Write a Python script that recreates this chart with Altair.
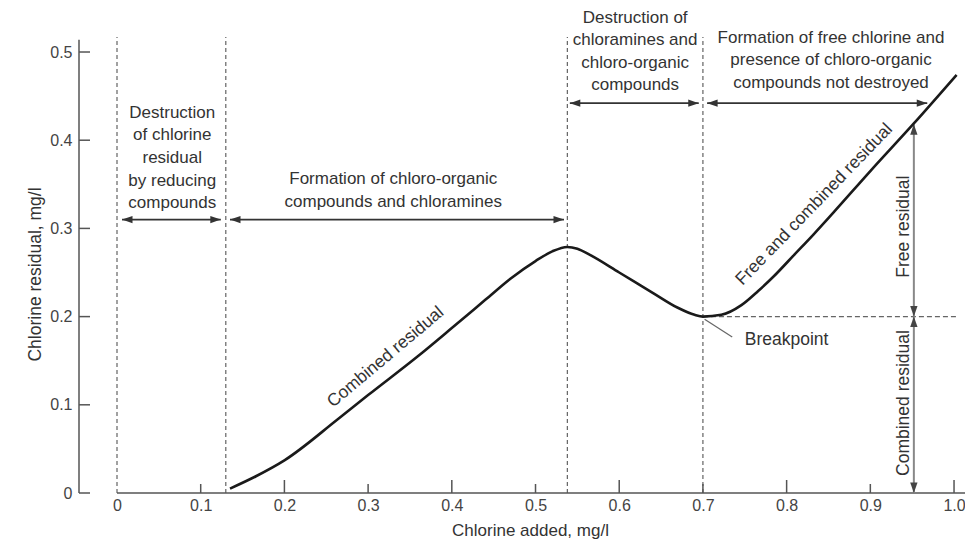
import altair as alt
import pandas as pd

# ---------------- data ----------------
curve_x = [0.135, 0.166, 0.2, 0.263, 0.3, 0.362, 0.4, 0.44, 0.47, 0.5, 0.52, 0.538,
           0.55, 0.565, 0.6, 0.64, 0.67, 0.69, 0.7, 0.722, 0.746, 0.766, 0.785, 0.809,
           0.832, 0.855, 0.9, 0.952, 1.003]
curve_y = [0.005, 0.019, 0.037, 0.083, 0.111, 0.157, 0.187, 0.219, 0.243, 0.263, 0.274, 0.279,
           0.277, 0.270, 0.250, 0.227, 0.210, 0.202, 0.2, 0.202, 0.213, 0.229, 0.246, 0.270,
           0.293, 0.317, 0.365, 0.419, 0.474]

x_ticks = [0, 0.1, 0.2, 0.3, 0.4, 0.5, 0.6, 0.7, 0.8, 0.9, 1.0]
x_tick_labels = ["0", "0.1", "0.2", "0.3", "0.4", "0.5", "0.6", "0.7", "0.8", "0.9", "1.0"]
y_ticks = [0, 0.1, 0.2, 0.3, 0.4, 0.5]
y_tick_labels = ["0", "0.1", "0.2", "0.3", "0.4", "0.5"]
x_major = [0.2, 0.4, 0.6, 0.8, 1.0]
x_minor = [0.1, 0.3, 0.5, 0.7, 0.9]

x_domain = [-0.0454, 1.0131]
y_domain = [0, 0.5499]
y_axis_top = 0.514

phase_x = [0, 0.13, 0.538, 0.7]
phase_top = 0.517

break_x, break_y = 0.7, 0.2
break_line_end = 1.003

harrow_x1 = [0.006, 0.135, 0.541, 0.705]
harrow_x2 = [0.124, 0.534, 0.695, 0.968]
harrow_y = [0.31, 0.31, 0.442, 0.442]

varrow_x = [0.952, 0.952]
varrow_y1 = [0.2, 0.0]
varrow_y2 = [0.418, 0.2]

leader_x = [0.702, 0.735]
leader_y = [0.197, 0.177]

block_texts = ["Destruction\nof chlorine\nresidual\nby reducing\ncompounds",
               "Formation of chloro-organic\ncompounds and chloramines",
               "Destruction of\nchloramines and\nchloro-organic\ncompounds",
               "Formation of free chlorine and\npresence of chloro-organic\ncompounds not destroyed"]
block_x = [0.066, 0.33, 0.619, 0.853]
block_y = [0.431, 0.356, 0.539, 0.516]   # position of the first line

curve_label_1 = ("Combined residual", 0.321, 0.154)
curve_label_2 = ("Free and combined residual", 0.833, 0.327)
vert_texts = ["Free residual", "Combined residual"]
vert_x = [0.94, 0.94]
vert_y = [0.302, 0.102]
break_label = ("Breakpoint", 0.75, 0.173)

# ---------------- styles ----------------
FONT = "Liberation Sans"
TXT = "#333333"
W, H = 886, 485

label_map = "{" + ",".join(f"'{v:.1f}':'{l}'" for v, l in zip(x_ticks, x_tick_labels)) + "}"
ylabel_map = "{" + ",".join(f"'{v:.1f}':'{l}'" for v, l in zip(y_ticks, y_tick_labels)) + "}"

xs = alt.Scale(domain=x_domain, nice=False, zero=False)
ys = alt.Scale(domain=y_domain, nice=False, zero=False)

curve_df = pd.DataFrame({"x": curve_x, "y": curve_y})

base_axes = alt.Chart(curve_df).mark_line(
    color="#1a1a1a", strokeWidth=2.6, interpolate="monotone"
).encode(
    x=alt.X("x:Q", scale=xs, axis=alt.Axis(
        values=x_ticks, labelExpr=f"{label_map}[format(datum.value, '.1f')]",
        domain=False, ticks=False, tickSize=0, grid=False, labelFlush=False,
        labelFontSize=16, labelFont=FONT, labelColor="#444444", labelPadding=4,
        title="Chlorine added, mg/l", titleFont=FONT, titleFontSize=17,
        titleFontWeight="normal", titleColor=TXT, titleX=451, titleY=37,
        titleBaseline="middle", titleAlign="center")),
    y=alt.Y("y:Q", scale=ys, axis=alt.Axis(
        values=y_ticks, labelExpr=f"{ylabel_map}[format(datum.value, '.1f')]",
        domain=False, ticks=False, tickSize=0, grid=False, labelFlush=False,
        labelFontSize=16, labelFont=FONT, labelColor="#444444", labelPadding=7,
        title="Chlorine residual, mg/l", titleFont=FONT, titleFontSize=17.5,
        titleFontWeight="normal", titleColor=TXT, titleX=-44, titleY=266,
        titleBaseline="middle", titleAlign="center", titleAngle=270)),
)

# axis lines
xaxis_line = alt.Chart(pd.DataFrame({"x": [0], "y": [0]})).mark_rule(
    color="#555555", strokeWidth=1.5
).encode(x=alt.X("x:Q", scale=xs), x2=alt.value(W), y=alt.Y("y:Q", scale=ys))

yaxis_line = alt.Chart(pd.DataFrame({"y": [0], "y2": [y_axis_top]})).mark_rule(
    color="#555555", strokeWidth=1.5
).encode(x=alt.value(0), y=alt.Y("y:Q", scale=ys), y2="y2:Q")

xmajor = alt.Chart(pd.DataFrame({"x": x_major})).mark_rule(color="#555555", strokeWidth=1.5).encode(
    x=alt.X("x:Q", scale=xs), y=alt.value(H), y2=alt.value(H - 13))
xminor = alt.Chart(pd.DataFrame({"x": x_minor})).mark_rule(color="#555555", strokeWidth=1.5).encode(
    x=alt.X("x:Q", scale=xs), y=alt.value(H), y2=alt.value(H - 9))
yticks = alt.Chart(pd.DataFrame({"y": y_ticks})).mark_rule(color="#555555", strokeWidth=1.5).encode(
    y=alt.Y("y:Q", scale=ys), x=alt.value(0), x2=alt.value(11))

# dashed phase lines
phase = alt.Chart(pd.DataFrame({"x": phase_x, "y": [0] * len(phase_x), "y2": [phase_top] * len(phase_x)})).mark_rule(
    color="#555555", strokeWidth=1.1, strokeDash=[4, 3]
).encode(x=alt.X("x:Q", scale=xs), y=alt.Y("y:Q", scale=ys), y2="y2:Q")

hdash = alt.Chart(pd.DataFrame({"x": [break_x], "x2": [break_line_end], "y": [break_y]})).mark_rule(
    color="#666666", strokeWidth=1.1, strokeDash=[5, 3]
).encode(x=alt.X("x:Q", scale=xs), x2="x2:Q", y=alt.Y("y:Q", scale=ys))

# horizontal arrows
hdf = pd.DataFrame({"x": harrow_x1, "x2": harrow_x2, "y": harrow_y})
harrows = alt.Chart(hdf).mark_rule(color="#333333", strokeWidth=1.6).encode(
    x=alt.X("x:Q", scale=xs), x2="x2:Q", y=alt.Y("y:Q", scale=ys))
head_left = alt.Chart(hdf).mark_point(shape="M0,0L2,-0.7L2,0.7Z", filled=True, size=110,
                                      color="#333333", opacity=1, strokeWidth=0).encode(
    x=alt.X("x:Q", scale=xs), y=alt.Y("y:Q", scale=ys))
head_right = alt.Chart(hdf).mark_point(shape="M0,0L-2,-0.7L-2,0.7Z", filled=True, size=110,
                                       color="#333333", opacity=1, strokeWidth=0).encode(
    x=alt.X("x2:Q", scale=xs), y=alt.Y("y:Q", scale=ys))

# vertical arrows
vdf = pd.DataFrame({"x": varrow_x, "y": varrow_y1, "y2": varrow_y2})
varrows = alt.Chart(vdf).mark_rule(color="#888888", strokeWidth=2).encode(
    x=alt.X("x:Q", scale=xs), y=alt.Y("y:Q", scale=ys), y2="y2:Q")
head_up = alt.Chart(vdf).mark_point(shape="M0,0L-0.7,2L0.7,2Z", filled=True, size=110,
                                    color="#444444", opacity=1, strokeWidth=0).encode(
    x=alt.X("x:Q", scale=xs), y=alt.Y("y2:Q", scale=ys))
head_down = alt.Chart(vdf).mark_point(shape="M0,0L-0.7,-2L0.7,-2Z", filled=True, size=110,
                                      color="#444444", opacity=1, strokeWidth=0).encode(
    x=alt.X("x:Q", scale=xs), y=alt.Y("y:Q", scale=ys))

# breakpoint leader
leader = alt.Chart(pd.DataFrame({"x": [leader_x[0]], "x2": [leader_x[1]],
                                 "y": [leader_y[0]], "y2": [leader_y[1]]})).mark_rule(
    color="#666666", strokeWidth=1.2).encode(
    x=alt.X("x:Q", scale=xs), x2="x2:Q", y=alt.Y("y:Q", scale=ys), y2="y2:Q")

# texts
blocks = alt.Chart(pd.DataFrame({"t": block_texts, "x": block_x, "y": block_y})).mark_text(
    font=FONT, fontSize=17, color=TXT, align="center", baseline="middle",
    lineBreak="\n", lineHeight=22.6
).encode(x=alt.X("x:Q", scale=xs), y=alt.Y("y:Q", scale=ys), text="t:N")

def single(label, angle, align="center"):
    t, x, y = label
    return alt.Chart(pd.DataFrame({"t": [t], "x": [x], "y": [y]})).mark_text(
        font=FONT, fontSize=17.5, color=TXT, align=align, baseline="middle", angle=angle
    ).encode(x=alt.X("x:Q", scale=xs), y=alt.Y("y:Q", scale=ys), text="t:N")

lab1 = single(curve_label_1, 320)
lab2 = single(curve_label_2, 314)
labb = single(break_label, 0, align="left")
verts = alt.Chart(pd.DataFrame({"t": vert_texts, "x": vert_x, "y": vert_y})).mark_text(
    font=FONT, fontSize=17.5, color=TXT, align="center", baseline="middle", angle=270
).encode(x=alt.X("x:Q", scale=xs), y=alt.Y("y:Q", scale=ys), text="t:N")

chart = alt.layer(
    phase, hdash, xaxis_line, yaxis_line, xmajor, xminor, yticks,
    harrows, head_left, head_right, varrows, head_up, head_down, leader,
    base_axes, blocks, lab1, lab2, labb, verts
).properties(
    width=W, height=H,
    autosize=alt.AutoSizeParams(type="none"),
    padding={"left": 71, "top": 0, "right": 0, "bottom": 48},
    background="white",
).configure(font=FONT).configure_view(strokeWidth=0, stroke=None)

chart.save("out.html", embed_options={"renderer": "svg", "actions": False})
